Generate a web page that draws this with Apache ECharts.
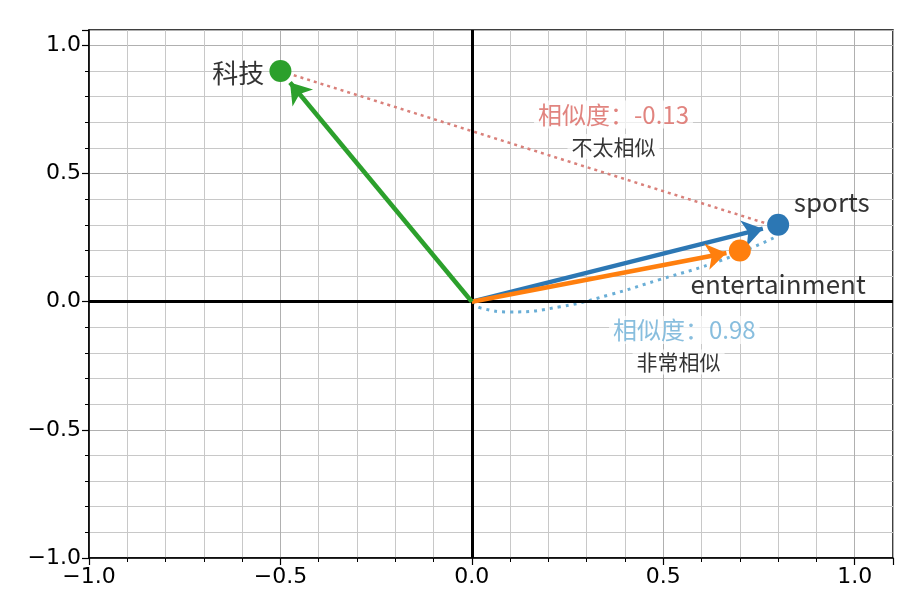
<!DOCTYPE html>
<html><head><meta charset="utf-8">
<script src="https://cdn.jsdelivr.net/npm/echarts@6/dist/echarts.min.js"></script>
<style>html,body{margin:0;padding:0;background:#fff}</style>
</head><body>
<div id="c" style="width:910px;height:603px"></div>
<script>
var names = ['sports', 'entertainment', '科技']
var vecs = [[0.8, 0.3], [0.7, 0.2], [-0.5, 0.9]]
var colors = ['#2c77b4', '#ff7f0e', '#2ca02c']
var labelPos = [[0.94, 0.39], [0.8, 0.07], [-0.61, 0.89]]
var redLine = [[-0.5, 0.9], [0.78, 0.3]]
var blueArc = [[0, -0.005], [0.024, -0.025], [0.10, -0.04], [0.23, -0.02], [0.36, 0.027], [0.49, 0.086], [0.63, 0.15], [0.73, 0.21], [0.79, 0.25]]
var notes = [
  {pos: [0.37, 0.73], text: '相似度：-0.13', color: '#d9655f', size: 24},
  {pos: [0.37, 0.605], text: '不太相似', color: '#000', size: 21},
  {pos: [0.555, -0.11], text: '相似度：0.98', color: '#6aaed6', size: 24},
  {pos: [0.54, -0.235], text: '非常相似', color: '#000', size: 21}
]

var font = 'Noto Sans CJK SC'
var fmt = function (v) { return (v < 0 ? '−' : '') + Math.abs(v).toFixed(1) }
function axis(min, max) {
  return {
    type: 'value', min: min, max: max, interval: 0.5,
    axisLine: {show: true, onZero: false, lineStyle: {color: '#000', width: 1.5}},
    axisTick: {show: true, length: 7, lineStyle: {color: '#000', width: 1.2}},
    minorTick: {show: true, splitNumber: 5, length: 4, lineStyle: {color: '#000'}},
    splitLine: {show: true, lineStyle: {color: '#b0b0b0', width: 1}},
    minorSplitLine: {show: true, lineStyle: {color: '#c8c8c8', width: 1}},
    axisLabel: {color: '#000', fontSize: 22, fontFamily: 'DejaVu Sans', formatter: fmt, showMaxLabel: false, margin: 8}
  }
}
var series = []
vecs.forEach(function (v, i) {
  series.push({
    type: 'lines', coordinateSystem: 'cartesian2d', z: 5,
    symbol: ['none', 'arrow'], symbolSize: 20,
    lineStyle: {color: colors[i], width: 4.5, opacity: 1},
    data: [{coords: [[0, 0], [v[0] * 0.95, v[1] * 0.95]]}]
  })
  series.push({
    type: 'scatter', symbolSize: 22, z: 6, itemStyle: {color: colors[i], opacity: 1},
    data: [v]
  })
  series.push({
    type: 'scatter', symbolSize: 0, z: 7,
    label: {show: true, formatter: names[i], color: '#000', fontSize: 26, fontFamily: font},
    data: [labelPos[i]]
  })
})
series.push({
  type: 'line', data: redLine, symbol: 'none', z: 4,
  lineStyle: {color: '#d9807a', width: 2.5, type: [3, 4]}
})
series.push({
  type: 'line', data: blueArc, symbol: 'none', smooth: true, z: 4,
  lineStyle: {color: '#6aaed6', width: 3, type: [3, 5]}
})
notes.forEach(function (n) {
  series.push({
    type: 'scatter', symbolSize: 0, z: 8,
    label: {show: true, formatter: n.text, color: n.color, fontSize: n.size, fontFamily: font,
      backgroundColor: 'rgba(255,255,255,0.85)', padding: [2, 4]},
    data: [n.pos]
  })
})
series.push({
  type: 'line', data: [], markLine: {
    silent: true, symbol: 'none', label: {show: false},
    lineStyle: {color: '#000', width: 3, type: 'solid'},
    data: [{xAxis: 0}, {yAxis: 0}]
  }
})

var myChart = echarts.init(document.getElementById('c'))
myChart.setOption({
  animation: false,
  grid: {left: 89, right: 17, top: 30, bottom: 45, show: true, borderColor: '#000', borderWidth: 1.5, backgroundColor: 'transparent'},
  xAxis: axis(-1, 1.1),
  yAxis: axis(-1, 1.06),
  series: series
})
</script>
</body></html>
